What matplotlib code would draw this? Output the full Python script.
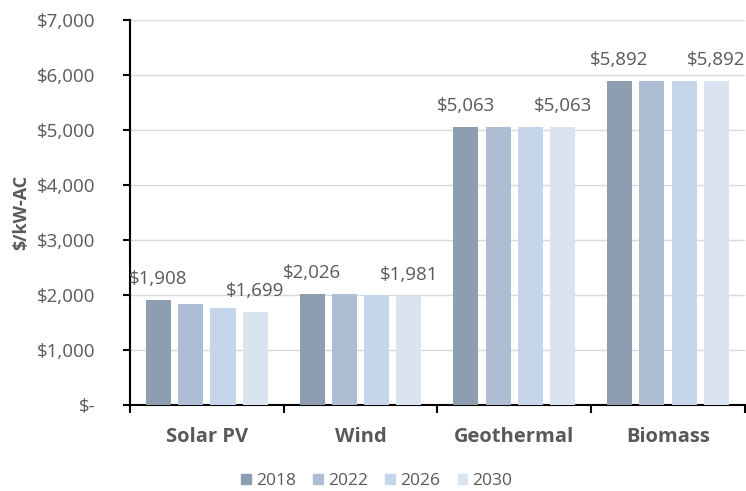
import numpy as np
import matplotlib.pyplot as plt
from matplotlib.patches import Patch

categories = ['Solar PV', 'Wind', 'Geothermal', 'Biomass']
years = ['2018', '2022', '2026', '2030']
costs_2018 = [1908, 2026, 5063, 5892]
costs_2022 = [1835, 2011, 5063, 5892]
costs_2026 = [1770, 1996, 5063, 5892]
costs_2030 = [1699, 1981, 5063, 5892]
yticks = [0, 1000, 2000, 3000, 4000, 5000, 6000, 7000]
ytick_labels = ['$-', '$1,000', '$2,000', '$3,000', '$4,000', '$5,000', '$6,000', '$7,000']

series = [costs_2018, costs_2022, costs_2026, costs_2030]
colors = ['#8c9eb0', '#adbed4', '#c5d5ea', '#dae3f0']
text_col = '#595959'

plt.rcParams['font.family'] = ['Open Sans', 'DejaVu Sans']

fig = plt.figure(figsize=(7.46, 4.91), dpi=100)
ax = fig.add_axes([0.1743, 0.175, 0.824, 0.784])

x = np.arange(len(categories))
step = 0.21
width = 0.163
for i, vals in enumerate(series):
    pos = x + (i - 1.5) * step
    ax.bar(pos, vals, width=width, color=colors[i], zorder=3)
    if i in (0, 3):
        for p, v in zip(pos, vals):
            ax.annotate(f'${v:,}', (p, v), xytext=(0, 15), textcoords='offset points',
                        ha='center', va='center', fontsize=13.5, color=text_col)

ax.set_xlim(-0.5, len(categories) - 0.5)
ax.set_ylim(0, 7000)
ax.set_yticks(yticks)
ax.set_yticklabels(ytick_labels, fontsize=13.5, color=text_col)
ax.set_xticks(x)
ax.set_xticklabels(categories, fontsize=14.5, fontweight='bold', color='#595959')
ax.tick_params(axis='x', length=0, pad=16)
ax.set_xticks(np.arange(-0.5, len(categories)), minor=True)
ax.tick_params(axis='x', which='minor', length=6, width=1.5, direction='out')
ax.tick_params(axis='y', length=5, width=1.5, direction='out', pad=20)
ax.set_ylabel('$/kW-AC', fontsize=13, fontweight='bold', color='#595959', labelpad=5)

ax.grid(axis='y', color='#d9d9d9', linewidth=1, zorder=0)
for s in ['top', 'right']:
    ax.spines[s].set_visible(False)
for s in ['left', 'bottom']:
    ax.spines[s].set_linewidth(1.5)

handles = [Patch(color=c, label=y) for c, y in zip(colors, years)]
fig.legend(handles=handles, loc='center', bbox_to_anchor=(0.505, 0.02), ncol=4,
           frameon=False, fontsize=12.5, labelcolor=text_col,
           handlelength=0.55, handleheight=0.55, columnspacing=1.0, handletextpad=0.3,
           borderpad=0.1)

fig.savefig('out.png', dpi=100)
